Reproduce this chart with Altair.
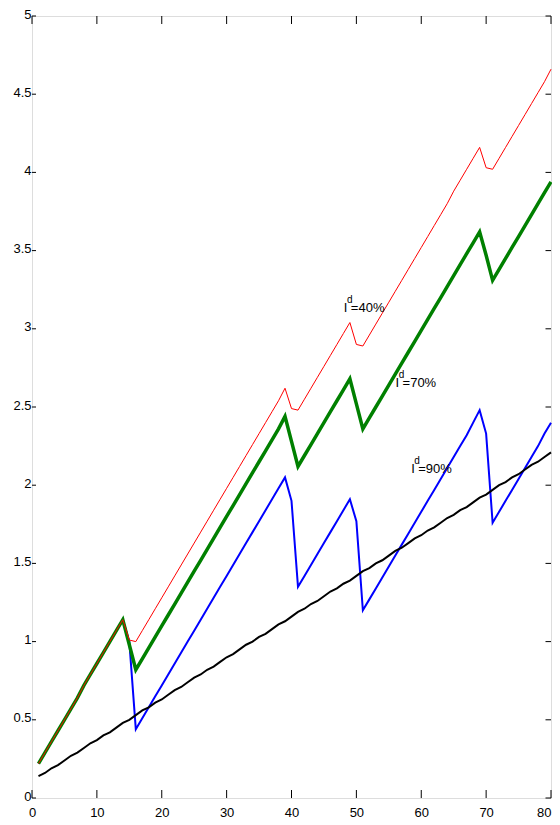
import altair as alt
import pandas as pd

x_vals = list(range(1, 81))

red_40 = [0.22, 0.29, 0.36, 0.43, 0.50, 0.57, 0.64, 0.72, 0.79, 0.86,
          0.93, 1.00, 1.07, 1.14, 1.01, 1.00, 1.07, 1.14, 1.21, 1.28,
          1.35, 1.42, 1.49, 1.56, 1.63, 1.70, 1.77, 1.84, 1.91, 1.98,
          2.05, 2.12, 2.19, 2.26, 2.33, 2.40, 2.47, 2.54, 2.62, 2.49,
          2.48, 2.55, 2.62, 2.69, 2.76, 2.83, 2.90, 2.97, 3.04, 2.90,
          2.89, 2.96, 3.03, 3.10, 3.17, 3.24, 3.31, 3.38, 3.45, 3.52,
          3.59, 3.66, 3.73, 3.80, 3.88, 3.95, 4.02, 4.09, 4.16, 4.03,
          4.02, 4.09, 4.16, 4.23, 4.30, 4.37, 4.44, 4.51, 4.58, 4.66]

green_70 = [0.22, 0.29, 0.36, 0.43, 0.50, 0.57, 0.64, 0.72, 0.79, 0.86,
            0.93, 1.00, 1.07, 1.14, 0.98, 0.82, 0.89, 0.96, 1.03, 1.10,
            1.17, 1.24, 1.31, 1.38, 1.45, 1.52, 1.59, 1.66, 1.73, 1.80,
            1.87, 1.94, 2.01, 2.08, 2.15, 2.22, 2.29, 2.36, 2.44, 2.28,
            2.12, 2.19, 2.26, 2.33, 2.40, 2.47, 2.54, 2.61, 2.68, 2.52,
            2.36, 2.43, 2.50, 2.57, 2.64, 2.71, 2.78, 2.85, 2.92, 2.99,
            3.06, 3.13, 3.20, 3.27, 3.34, 3.41, 3.48, 3.55, 3.62, 3.47,
            3.31, 3.38, 3.45, 3.52, 3.59, 3.66, 3.73, 3.80, 3.87, 3.94]

blue_90 = [0.22, 0.29, 0.36, 0.43, 0.50, 0.57, 0.64, 0.72, 0.79, 0.86,
           0.93, 1.00, 1.07, 1.14, 1.00, 0.44, 0.51, 0.58, 0.65, 0.72,
           0.79, 0.86, 0.93, 1.00, 1.07, 1.14, 1.21, 1.28, 1.35, 1.42,
           1.49, 1.56, 1.63, 1.70, 1.77, 1.84, 1.91, 1.98, 2.05, 1.90,
           1.35, 1.42, 1.49, 1.56, 1.63, 1.70, 1.77, 1.84, 1.91, 1.77,
           1.20, 1.27, 1.34, 1.41, 1.48, 1.55, 1.62, 1.69, 1.76, 1.83,
           1.90, 1.97, 2.04, 2.11, 2.18, 2.25, 2.32, 2.40, 2.48, 2.33,
           1.76, 1.83, 1.90, 1.97, 2.04, 2.11, 2.18, 2.25, 2.33, 2.40]

black_ref = [0.14, 0.16, 0.19, 0.21, 0.24, 0.27, 0.29, 0.32, 0.35, 0.37,
             0.40, 0.42, 0.45, 0.48, 0.50, 0.53, 0.56, 0.58, 0.61, 0.63,
             0.66, 0.69, 0.71, 0.74, 0.77, 0.79, 0.82, 0.84, 0.87, 0.90,
             0.92, 0.95, 0.98, 1.00, 1.03, 1.05, 1.08, 1.11, 1.13, 1.16,
             1.19, 1.21, 1.24, 1.26, 1.29, 1.32, 1.34, 1.37, 1.39, 1.42,
             1.45, 1.47, 1.50, 1.52, 1.55, 1.58, 1.60, 1.63, 1.66, 1.68,
             1.71, 1.73, 1.76, 1.79, 1.81, 1.84, 1.86, 1.89, 1.92, 1.94,
             1.97, 2.00, 2.02, 2.05, 2.07, 2.10, 2.13, 2.15, 2.18, 2.21]

x_ticks = [0, 10, 20, 30, 40, 50, 60, 70, 80]
y_ticks = [0, 0.5, 1, 1.5, 2, 2.5, 3, 3.5, 4, 4.5, 5]

label_x = [48.07, 56.04, 58.44]
label_y = [3.11, 2.63, 2.08]
label_txt = ["=40%", "=70%", "=90%"]

W, H = 519, 782
FONT = "Liberation Sans"

xs = alt.Scale(domain=[0, 80], nice=False)
ys = alt.Scale(domain=[0, 5], nice=False)

x_axis = alt.Axis(values=x_ticks, labelFontSize=13, labelFont=FONT, labelColor="black",
                  labelPadding=18, labelBaseline="alphabetic", ticks=False, domain=False,
                  grid=False, title=None, labelFlush=False,
                  labelAlign={"expr": "datum.value == 80 ? 'right' : 'center'"})
y_axis = alt.Axis(values=y_ticks, format="~g", labelFontSize=13, labelFont=FONT, labelColor="black",
                  labelPadding=1, labelBaseline="alphabetic", labelOffset=2, ticks=False,
                  domain=False, grid=False, title=None, labelFlush=False)


def series(vals, color, width):
    df = pd.DataFrame({"x": x_vals, "y": vals})
    return alt.Chart(df).mark_line(color=color, strokeWidth=width, strokeJoin="miter").encode(
        x=alt.X("x:Q", scale=xs, axis=x_axis),
        y=alt.Y("y:Q", scale=ys, axis=y_axis),
    )


lines = [
    series(blue_90, "#0000ff", 2),
    series(green_70, "#008000", 3.5),
    series(red_40, "#ff0000", 1),
    series(black_ref, "#000000", 2),
]

xt = pd.DataFrame({"x": x_ticks})
yt = pd.DataFrame({"y": y_ticks})

bottom_ticks = alt.Chart(xt).mark_rule(color="black", strokeWidth=1).encode(
    x=alt.X("x:Q", scale=xs), y=alt.value(H), y2=alt.value(H - 8))
top_ticks = alt.Chart(xt).mark_rule(color="black", strokeWidth=1).encode(
    x=alt.X("x:Q", scale=xs), y=alt.value(0), y2=alt.value(8))
left_ticks = alt.Chart(yt).mark_rule(color="black", strokeWidth=1).encode(
    y=alt.Y("y:Q", scale=ys), x=alt.value(0), x2=alt.value(4))
right_ticks = alt.Chart(yt).mark_rule(color="black", strokeWidth=1).encode(
    y=alt.Y("y:Q", scale=ys), x=alt.value(W - 5.5), x2=alt.value(W))

ldf = pd.DataFrame({"x": label_x, "y": label_y, "t": label_txt})
lab_I = alt.Chart(ldf).mark_text(text="I", align="left", baseline="alphabetic",
                                 font=FONT, fontSize=13, color="black").encode(
    x=alt.X("x:Q", scale=xs), y=alt.Y("y:Q", scale=ys))
lab_d = alt.Chart(ldf).mark_text(text="d", align="left", baseline="alphabetic",
                                 font=FONT, fontSize=10, color="black", dx=3.2, dy=-8.5).encode(
    x=alt.X("x:Q", scale=xs), y=alt.Y("y:Q", scale=ys))
lab_t = alt.Chart(ldf).mark_text(align="left", baseline="alphabetic",
                                 font=FONT, fontSize=13, color="black", dx=7).encode(
    x=alt.X("x:Q", scale=xs), y=alt.Y("y:Q", scale=ys), text="t:N")

chart = alt.layer(
    *lines, bottom_ticks, top_ticks, left_ticks, right_ticks, lab_I, lab_d, lab_t
).properties(
    width=W, height=H,
    autosize=alt.AutoSizeParams(type="none"),
    padding={"left": 24, "top": 8, "right": 1, "bottom": 22},
).configure_view(stroke="black", strokeWidth=1).configure(background="white")

chart.save("out.html", embed_options={"renderer": "svg", "actions": False})
